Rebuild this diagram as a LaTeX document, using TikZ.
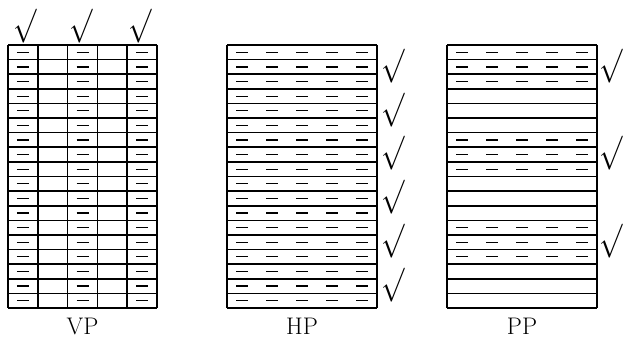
\RequirePackage{fix-cm}
\documentclass[tikz,border=0pt]{standalone}
\usepackage{graphicx}
\newcommand{\chkmark}{\scalebox{0.82}[1]{$\surd$}}
\begin{document}
\begin{tikzpicture}[x=1pt,y=-1pt,
  gridline/.style={line width=1.6pt},
  dsh/.style={line width=1.2pt},
  chk/.style={inner sep=0pt,font=\fontsize{34}{34}\selectfont},
  lbl/.style={inner sep=0pt,font=\fontsize{24}{28}\selectfont}]
\useasboundingbox (0,0) rectangle (623,347);
\def\rh{14.61}
% ---------- VP ----------
\foreach \i in {0,...,18} \draw[gridline] (8,{45+\i*\rh}) -- (157,{45+\i*\rh});
\foreach \j in {0,...,5} \draw[gridline] ({8+\j*29.8},45) -- ({8+\j*29.8},{45+18*\rh});
\foreach \j in {0,2,4} \foreach \i in {0,...,17}
  \draw[dsh] ({8+(\j+0.5)*29.8-6},{45+(\i+0.5)*\rh}) -- ({8+(\j+0.5)*29.8+6},{45+(\i+0.5)*\rh});
\node[chk] (vpa) at (25,26.5) {\chkmark};
\node[chk] (vpb) at (81.5,26.5) {\chkmark};
\node[chk] (vpc) at (140,26.5) {\chkmark};
\node[lbl] (vplabel) at (82.5,326) {VP};
% ---------- HP ----------
\foreach \i in {0,...,18} \draw[gridline] (227,{45+\i*\rh}) -- (377,{45+\i*\rh});
\draw[gridline] (227,45) -- (227,{45+18*\rh});
\draw[gridline] (377,45) -- (377,{45+18*\rh});
\foreach \i in {0,...,17} \foreach \k in {0,...,4}
  \draw[dsh] ({227+(\k+0.5)*30-6},{45+(\i+0.5)*\rh}) -- ({227+(\k+0.5)*30+6},{45+(\i+0.5)*\rh});
\foreach \g in {0,...,5} \node[chk] (hp\g) at (393,{45+(3*\g+1.5)*\rh-1}) {\chkmark};
\node[lbl] (hplabel) at (302,326) {HP};
% ---------- PP ----------
\foreach \i in {0,...,18} \draw[gridline] (447,{45+\i*\rh}) -- (597,{45+\i*\rh});
\draw[gridline] (447,45) -- (447,{45+18*\rh});
\draw[gridline] (597,45) -- (597,{45+18*\rh});
\foreach \i in {0,1,2,6,7,8,12,13,14} \foreach \k in {0,...,4}
  \draw[dsh] ({447+(\k+0.5)*30-6},{45+(\i+0.5)*\rh}) -- ({447+(\k+0.5)*30+6},{45+(\i+0.5)*\rh});
\foreach \g in {0,2,4} \node[chk] (pp\g) at (611,{45+(3*\g+1.5)*\rh-1}) {\chkmark};
\node[lbl] (pplabel) at (522,326) {PP};
\end{tikzpicture}
\end{document}
